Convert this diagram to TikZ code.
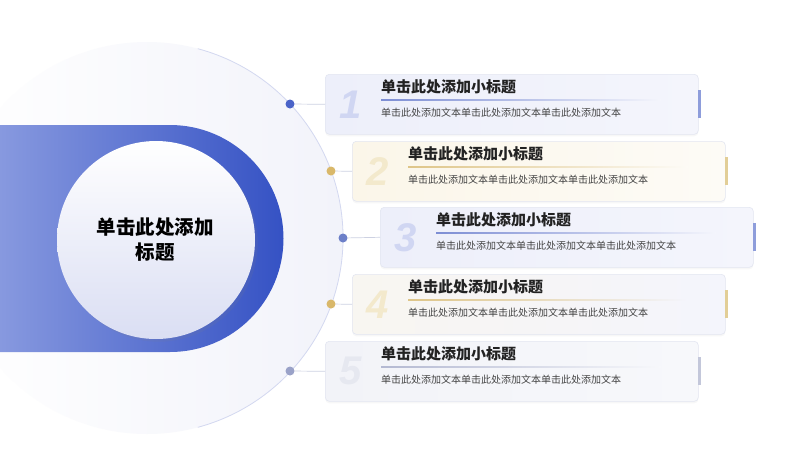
\documentclass[tikz,border=0pt]{standalone}
\usepackage{fontspec}
\setmainfont{Noto Sans CJK SC}
\newfontfamily\numfont{Liberation Sans}
\usetikzlibrary{shadows}

\definecolor{bluedark}{HTML}{3552C4}
\definecolor{bluelight}{HTML}{8799DF}
\definecolor{bgcircle}{HTML}{F2F3FA}
\definecolor{circleline}{HTML}{D3D8F0}
\definecolor{innerlow}{HTML}{DADEF3}
\definecolor{cardline}{HTML}{E3E6F1}
\definecolor{linkgray}{HTML}{CDD1E2}
\definecolor{dotblue}{HTML}{4A63C8}
\definecolor{dotgold}{HTML}{D9B86A}
\definecolor{dotmid}{HTML}{6C7FC8}
\definecolor{dotgray}{HTML}{9AA2C8}
\definecolor{fillblueL}{HTML}{EDEFFA}
\definecolor{fillblueR}{HTML}{F4F5FC}
\definecolor{fillgoldL}{HTML}{FBF6E9}
\definecolor{fillgoldR}{HTML}{FDFBF6}
\definecolor{fillgrayL}{HTML}{F2F3F8}
\definecolor{fillgrayR}{HTML}{F7F8FB}
\definecolor{numblue}{HTML}{D0D6F2}
\definecolor{numgold}{HTML}{F3E9CC}
\definecolor{numgray}{HTML}{E6E8F0}
\definecolor{ruleblue}{HTML}{7D8ED4}
\definecolor{rulegold}{HTML}{DEC588}
\definecolor{rulegray}{HTML}{B4B9D2}
\definecolor{barblue}{HTML}{8E9DDB}
\definecolor{bargold}{HTML}{E2CE97}
\definecolor{bargray}{HTML}{C3C7DA}
\definecolor{txtdark}{HTML}{222222}
\definecolor{txtbody}{HTML}{444444}

\begin{document}
\begin{tikzpicture}[
        x=1pt, y=-1pt,
        card/.style={draw=cardline, line width=0.6pt, rounded corners=4pt, anchor=north west,
            minimum width=373pt, minimum height=60pt, inner sep=0pt,
            drop shadow={shadow xshift=0pt, shadow yshift=-2pt, opacity=0.06}},
        num/.style={font=\numfont\bfseries\itshape\fontsize{40}{40}\selectfont},
        ttl/.style={anchor=west, inner sep=0pt, text=txtdark, font=\bfseries\fontsize{15}{18}\selectfont},
        body/.style={anchor=west, inner sep=0pt, text=txtbody, font=\fontsize{10}{12}\selectfont},
        bar/.style={line width=2.6pt},
        dot/.style={circle, inner sep=0pt, minimum size=9pt},
        link/.style={draw=linkgray, line width=0.7pt}
    ]
    \useasboundingbox[fill=white] (0,0) rectangle (800,450);

    % background circle and left band
    \path[left color=white, right color=bgcircle] (147,238) circle[radius=196];
    \draw[circleline, line width=0.8pt] (147,238) ++(-75:196) arc[start angle=-75, end angle=75, radius=196];
    \path[left color=bluelight, right color=bluedark] (0,125) -- (170,125)
        arc[start angle=-90, end angle=90, radius=113.5] -- (0,352) -- cycle;
    \path[top color=white, bottom color=innerlow, drop shadow={opacity=0.12}] (156,240) circle[radius=99];
    \node[align=center, text=black, font=\bfseries\fontsize{19.5}{25}\selectfont] (main) at (155,240) {单击此处添加\\标题};

    % card 1
    \node[card, left color=fillblueL, right color=fillblueR] (c1) at (325,74) {};
    \node[num, text=numblue] (n1) at ([xshift=26pt]c1.west) {1};
    \node[ttl] (t1) at ([xshift=56pt,yshift=-13pt]c1.north west) {单击此处添加小标题};
    \path[left color=ruleblue, right color=fillblueR] ([xshift=56pt,yshift=-25.5pt]c1.north west) rectangle ++(280,1.3);
    \node[body] (b1) at ([xshift=56pt,yshift=-39pt]c1.north west) {单击此处添加文本单击此处添加文本单击此处添加文本};
    \draw[bar, barblue] ([xshift=1pt,yshift=-16pt]c1.north east) -- ([xshift=1pt,yshift=-44pt]c1.north east);
    \node[dot, fill=dotblue] (d1) at (290,104) {};
    \draw[link] (d1) -- (c1.west);

    % card 2
    \node[card, left color=fillgoldL, right color=fillgoldR] (c2) at (352,141) {};
    \node[num, text=numgold] (n2) at ([xshift=26pt]c2.west) {2};
    \node[ttl] (t2) at ([xshift=56pt,yshift=-13pt]c2.north west) {单击此处添加小标题};
    \path[left color=rulegold, right color=fillgoldR] ([xshift=56pt,yshift=-25.5pt]c2.north west) rectangle ++(280,1.3);
    \node[body] (b2) at ([xshift=56pt,yshift=-39pt]c2.north west) {单击此处添加文本单击此处添加文本单击此处添加文本};
    \draw[bar, bargold] ([xshift=1pt,yshift=-16pt]c2.north east) -- ([xshift=1pt,yshift=-44pt]c2.north east);
    \node[dot, fill=dotgold] (d2) at (331,171) {};
    \draw[link] (d2) -- (c2.west);

    % card 3
    \node[card, left color=fillblueL, right color=fillblueR] (c3) at (380,207) {};
    \node[num, text=numblue] (n3) at ([xshift=26pt]c3.west) {3};
    \node[ttl] (t3) at ([xshift=56pt,yshift=-13pt]c3.north west) {单击此处添加小标题};
    \path[left color=ruleblue, right color=fillblueR] ([xshift=56pt,yshift=-25.5pt]c3.north west) rectangle ++(280,1.3);
    \node[body] (b3) at ([xshift=56pt,yshift=-39pt]c3.north west) {单击此处添加文本单击此处添加文本单击此处添加文本};
    \draw[bar, barblue] ([xshift=1pt,yshift=-16pt]c3.north east) -- ([xshift=1pt,yshift=-44pt]c3.north east);
    \node[dot, fill=dotmid] (d3) at (343,238) {};
    \draw[link] (d3) -- (c3.west);

    % card 4
    \node[card, left color=fillgoldL!60!fillblueR, right color=fillblueR] (c4) at (352,274) {};
    \node[num, text=numgold] (n4) at ([xshift=26pt]c4.west) {4};
    \node[ttl] (t4) at ([xshift=56pt,yshift=-13pt]c4.north west) {单击此处添加小标题};
    \path[left color=rulegold, right color=fillblueR] ([xshift=56pt,yshift=-25.5pt]c4.north west) rectangle ++(280,1.3);
    \node[body] (b4) at ([xshift=56pt,yshift=-39pt]c4.north west) {单击此处添加文本单击此处添加文本单击此处添加文本};
    \draw[bar, bargold] ([xshift=1pt,yshift=-16pt]c4.north east) -- ([xshift=1pt,yshift=-44pt]c4.north east);
    \node[dot, fill=dotgold] (d4) at (331,304) {};
    \draw[link] (d4) -- (c4.west);

    % card 5
    \node[card, left color=fillgrayL, right color=fillgrayR] (c5) at (325,341) {};
    \node[num, text=numgray] (n5) at ([xshift=26pt]c5.west) {5};
    \node[ttl] (t5) at ([xshift=56pt,yshift=-13pt]c5.north west) {单击此处添加小标题};
    \path[left color=rulegray, right color=fillgrayR] ([xshift=56pt,yshift=-25.5pt]c5.north west) rectangle ++(280,1.3);
    \node[body] (b5) at ([xshift=56pt,yshift=-39pt]c5.north west) {单击此处添加文本单击此处添加文本单击此处添加文本};
    \draw[bar, bargray] ([xshift=1pt,yshift=-16pt]c5.north east) -- ([xshift=1pt,yshift=-44pt]c5.north east);
    \node[dot, fill=dotgray] (d5) at (290,371) {};
    \draw[link] (d5) -- (c5.west);
\end{tikzpicture}
\end{document}
